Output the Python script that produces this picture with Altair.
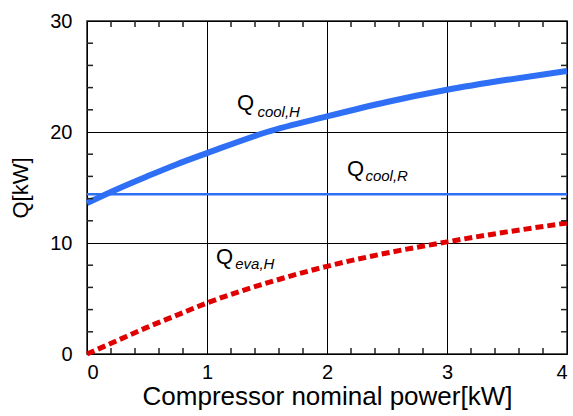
import altair as alt
import pandas as pd

# Data
power_h = [0, 0.25, 0.5, 0.75, 1.0, 1.5, 2.0, 2.5, 3.0, 3.5, 4.0]
q_cool_h = [13.6, 14.85, 16.0, 17.1, 18.1, 20.0, 21.4, 22.7, 23.8, 24.7, 25.5]

power_e = [0, 0.25, 0.5, 0.75, 1.0, 1.5, 2.0, 2.5, 3.0, 3.5, 4.0]
q_eva_h = [0.0, 1.2, 2.4, 3.5, 4.6, 6.4, 7.9, 9.1, 10.1, 11.0, 11.8]

power_r = [0, 4]
q_cool_r = [14.4, 14.4]

x_major = [0, 1, 2, 3, 4]
y_major = [0, 10, 20, 30]
x_minor = [0.2, 0.4, 0.6, 0.8, 1.2, 1.4, 1.6, 1.8, 2.2, 2.4, 2.6, 2.8, 3.2, 3.4, 3.6, 3.8]
y_minor = [2, 4, 6, 8, 12, 14, 16, 18, 22, 24, 26, 28]

main_labels = ["Q", "Q", "Q"]
main_x = [1.25, 2.167, 1.075]
main_y = [22.6, 16.67, 8.74]
sub_labels = ["cool,H", "cool,R", "eva,H"]
sub_x = [1.42, 2.32, 1.235]
sub_y = [21.8, 16.04, 8.1]

FONT = "Liberation Sans"
W, H = 480, 333
X_MAX, Y_MAX = 4, 30
BLUE = "#2f6ff5"
RED = "#e00000"
TICK_PX = 6

xs = alt.Scale(domain=[0, X_MAX], nice=False)
ys = alt.Scale(domain=[0, Y_MAX], nice=False)

# tick lengths converted to data units so the rules are drawn through the scales
dx = TICK_PX * X_MAX / W
dy = TICK_PX * Y_MAX / H

df_h = pd.DataFrame({"x": power_h, "y": q_cool_h})
df_e = pd.DataFrame({"x": power_e, "y": q_eva_h})
df_r = pd.DataFrame({"x": power_r, "y": q_cool_r})
df_xt = pd.DataFrame({
    "tx": x_minor * 2,
    "ta": [0.0] * len(x_minor) + [Y_MAX - dy] * len(x_minor),
    "tb": [dy] * len(x_minor) + [float(Y_MAX)] * len(x_minor),
})
df_yt = pd.DataFrame({
    "ty": y_minor * 2,
    "sa": [0.0] * len(y_minor) + [X_MAX - dx] * len(y_minor),
    "sb": [dx] * len(y_minor) + [float(X_MAX)] * len(y_minor),
})
df_main = pd.DataFrame({"x": main_x, "y": main_y, "t": main_labels})
df_sub = pd.DataFrame({"x": sub_x, "y": sub_y, "t": sub_labels})

base_x = alt.X("x:Q", scale=xs, title="Compressor nominal power[kW]",
               axis=alt.Axis(values=x_major, grid=True, gridColor="black", gridWidth=1,
                             gridOpacity=1, domain=False, ticks=False, labelPadding=8,
                             labelFontSize=20, labelFont=FONT, labelColor="black",
                             titleFontSize=26, titleFont=FONT, titleFontWeight="normal",
                             titleColor="black", titlePadding=1, format="d"))
base_y = alt.Y("y:Q", scale=ys, title="Q[kW]",
               axis=alt.Axis(values=y_major, grid=True, gridColor="black", gridWidth=1,
                             gridOpacity=1, domain=False, ticks=False, labelPadding=15,
                             labelFontSize=20, labelFont=FONT, labelColor="black",
                             titleFontSize=22, titleFont=FONT, titleFontWeight="normal",
                             titleColor="black", titlePadding=17, format="d"))

line_h = alt.Chart(df_h).mark_line(color=BLUE, strokeWidth=6, interpolate="monotone").encode(
    x=base_x, y=base_y)
line_r = alt.Chart(df_r).mark_line(color=BLUE, strokeWidth=2.5).encode(
    x=alt.X("x:Q", scale=xs), y=alt.Y("y:Q", scale=ys))
line_e = alt.Chart(df_e).mark_line(color=RED, strokeWidth=5, strokeDash=[8, 4],
                                   interpolate="monotone").encode(
    x=alt.X("x:Q", scale=xs), y=alt.Y("y:Q", scale=ys))

xticks = alt.Chart(df_xt).mark_rule(color="#222222", strokeWidth=1.5).encode(
    x=alt.X("tx:Q", scale=xs), y=alt.Y("ta:Q", scale=ys), y2="tb:Q")
yticks = alt.Chart(df_yt).mark_rule(color="#222222", strokeWidth=1.5).encode(
    y=alt.Y("ty:Q", scale=ys), x=alt.X("sa:Q", scale=xs), x2="sb:Q")

txt_main = alt.Chart(df_main).mark_text(align="left", baseline="middle", fontSize=22,
                                        font=FONT, color="black").encode(
    x=alt.X("x:Q", scale=xs), y=alt.Y("y:Q", scale=ys), text="t:N")
txt_sub = alt.Chart(df_sub).mark_text(align="left", baseline="middle", fontSize=15,
                                      font=FONT, fontStyle="italic", color="black").encode(
    x=alt.X("x:Q", scale=xs), y=alt.Y("y:Q", scale=ys), text="t:N")

chart = alt.layer(line_h, line_r, line_e, xticks, yticks,
                  txt_main, txt_sub).properties(
    width=W, height=H,
    autosize=alt.AutoSizeParams(type="none"),
    padding={"left": 87, "top": 21, "right": 6, "bottom": 62},
    background="white",
).configure_view(stroke="#222222", strokeWidth=1.5)

chart.save("out.html", embed_options={"renderer": "svg", "actions": False})
